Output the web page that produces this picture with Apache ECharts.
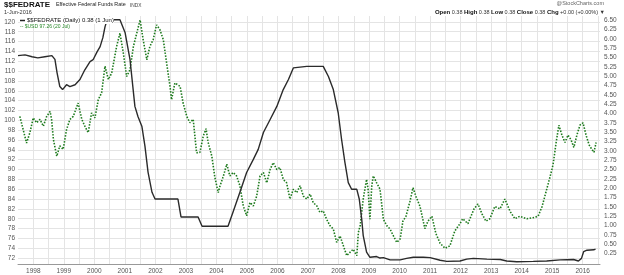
<!DOCTYPE html>
<html><head><meta charset="utf-8">
<script src="https://cdn.jsdelivr.net/npm/echarts@6/dist/echarts.min.js"></script>
<style>html,body{margin:0;padding:0;background:#fff}#c{width:624px;height:275px}</style>
</head><body><div id="c"></div><script>
const yearTicks = [1998,1999,2000,2001,2002,2003,2004,2005,2006,2007,2008,2009,2010,2011,2012,2013,2014,2015,2016];
const gridYears = [1998,1998.5,1999,1999.5,2000,2000.5,2001,2001.5,2002,2002.5,2003,2003.5,2004,2004.5,2005,2005.5,2006,2006.5,2007,2007.5,2008,2008.5,2009,2009.5,2010,2010.5,2011,2011.5,2012,2012.5,2013,2013.5,2014,2014.5,2015,2015.5,2016,2016.5];
const usdTicks = [72,74,76,78,80,82,84,86,88,90,92,94,96,98,100,102,104,106,108,110,112,114,116,118,120];
const rateTicks = [0.25,0.5,0.75,1,1.25,1.5,1.75,2,2.25,2.5,2.75,3,3.25,3.5,3.75,4,4.25,4.5,4.75,5,5.25,5.5,5.75,6,6.25,6.5];

const fedRate = [[1997.50,5.55],[1997.73,5.57],[1997.96,5.52],[1998.15,5.49],[1998.38,5.52],[1998.61,5.55],[1998.71,5.45],[1998.78,5.09],[1998.87,4.72],[1998.96,4.64],[1999.09,4.77],[1999.20,4.72],[1999.37,4.77],[1999.53,4.91],[1999.69,5.17],[1999.86,5.39],[1999.96,5.44],[2000.09,5.65],[2000.19,5.79],[2000.28,6.03],[2000.35,6.32],[2000.42,6.51],[2000.84,6.51],[2001.01,6.16],[2001.17,5.44],[2001.33,4.19],[2001.43,3.92],[2001.56,3.65],[2001.66,3.12],[2001.76,2.43],[2001.89,1.89],[2001.99,1.71],[2002.74,1.71],[2002.84,1.23],[2003.40,1.23],[2003.53,0.98],[2004.38,0.98],[2004.54,1.35],[2004.77,1.89],[2004.99,2.42],[2005.21,2.77],[2005.37,3.04],[2005.54,3.49],[2005.76,3.84],[2005.98,4.19],[2006.19,4.64],[2006.36,4.91],[2006.52,5.22],[2006.96,5.26],[2007.50,5.26],[2007.67,4.99],[2007.83,4.64],[2007.99,4.02],[2008.10,3.31],[2008.21,2.69],[2008.32,2.15],[2008.43,1.97],[2008.60,1.97],[2008.68,1.71],[2008.76,1.17],[2008.81,0.73],[2008.92,0.29],[2009.03,0.15],[2009.25,0.17],[2009.36,0.13],[2009.47,0.14],[2009.69,0.08],[2010.02,0.08],[2010.23,0.12],[2010.45,0.15],[2010.78,0.15],[2011.0,0.14],[2011.33,0.07],[2011.55,0.04],[2011.98,0.05],[2012.20,0.10],[2012.42,0.12],[2012.86,0.10],[2013.30,0.09],[2013.51,0.05],[2013.84,0.03],[2014.38,0.04],[2014.82,0.05],[2015.26,0.08],[2015.70,0.09],[2015.86,0.05],[2015.96,0.12],[2016.03,0.30],[2016.14,0.34],[2016.36,0.35],[2016.42,0.37]];

const usdIndex = [[1997.56,100.8],[1997.67,98.1],[1997.78,95.4],[1997.89,97.5],[1998.00,100.5],[1998.11,99.5],[1998.22,100.2],[1998.33,98.8],[1998.44,100.8],[1998.55,101.8],[1998.60,100.2],[1998.66,96.1],[1998.77,92.7],[1998.87,94.8],[1998.98,94.1],[1999.09,98.1],[1999.20,100.2],[1999.31,100.8],[1999.47,103.5],[1999.59,100.2],[1999.69,98.8],[1999.80,97.5],[1999.91,101.5],[2000.02,100.5],[2000.13,104.2],[2000.24,105.6],[2000.35,111.0],[2000.46,108.3],[2000.57,109.6],[2000.73,115.0],[2000.84,117.7],[2000.95,113.7],[2001.06,108.9],[2001.17,110.3],[2001.28,115.0],[2001.39,117.7],[2001.50,120.4],[2001.60,116.4],[2001.72,112.3],[2001.82,115.0],[2001.93,116.4],[2002.04,119.4],[2002.15,118.4],[2002.26,116.4],[2002.37,111.6],[2002.48,106.9],[2002.53,104.2],[2002.64,107.6],[2002.81,106.9],[2002.91,103.5],[2003.03,100.8],[2003.13,99.5],[2003.24,100.2],[2003.35,93.4],[2003.46,93.5],[2003.57,96.8],[2003.66,98.3],[2003.73,95.5],[2003.85,92.7],[2003.95,88.4],[2004.06,85.3],[2004.12,86.7],[2004.23,88.7],[2004.34,91.1],[2004.44,88.7],[2004.55,89.4],[2004.66,88.7],[2004.77,86.7],[2004.88,82.6],[2004.99,80.6],[2005.10,83.3],[2005.21,82.6],[2005.32,84.6],[2005.43,88.7],[2005.54,89.4],[2005.65,87.3],[2005.76,90.0],[2005.86,91.4],[2005.98,90.0],[2006.08,90.4],[2006.19,88.0],[2006.30,87.3],[2006.41,84.0],[2006.52,86.0],[2006.63,85.3],[2006.74,86.7],[2006.85,84.6],[2006.96,84.0],[2007.07,85.0],[2007.17,83.3],[2007.29,82.6],[2007.39,81.3],[2007.50,81.6],[2007.61,79.9],[2007.72,78.6],[2007.83,77.9],[2007.94,75.2],[2008.05,76.5],[2008.16,74.5],[2008.27,72.5],[2008.38,73.2],[2008.48,73.8],[2008.60,72.5],[2008.65,77.2],[2008.71,78.6],[2008.81,84.0],[2008.92,88.0],[2008.97,86.0],[2009.03,79.9],[2009.09,86.7],[2009.14,88.7],[2009.25,87.3],[2009.36,86.0],[2009.47,79.9],[2009.58,78.6],[2009.69,77.9],[2009.80,76.5],[2009.91,75.2],[2010.02,75.9],[2010.11,79.5],[2010.21,80.5],[2010.34,83.5],[2010.44,86.3],[2010.54,84.5],[2010.67,82.5],[2010.83,78.0],[2010.93,79.5],[2011.06,80.5],[2011.19,77.0],[2011.33,75.0],[2011.49,74.0],[2011.65,74.5],[2011.81,77.5],[2011.98,79.0],[2012.07,80.0],[2012.24,79.0],[2012.44,82.0],[2012.57,83.0],[2012.70,81.0],[2012.83,79.5],[2012.96,80.0],[2013.12,82.5],[2013.29,82.0],[2013.45,84.0],[2013.62,81.5],[2013.78,80.0],[2013.94,80.5],[2014.17,80.0],[2014.37,80.2],[2014.54,80.5],[2014.67,82.5],[2014.80,85.5],[2014.93,88.5],[2015.03,91.0],[2015.13,95.5],[2015.22,99.0],[2015.32,97.0],[2015.42,95.5],[2015.52,97.0],[2015.62,96.0],[2015.71,94.5],[2015.81,97.0],[2015.91,99.0],[2016.01,99.5],[2016.11,97.0],[2016.21,95.0],[2016.31,94.0],[2016.37,93.5],[2016.44,95.5]];

const chart = echarts.init(document.getElementById('c'), null, {renderer:'canvas'});
const lab = {color:'#555', fontSize:6.5, fontFamily:'Liberation Sans'};
chart.setOption({
  animation:false,
  backgroundColor:'#fff',
  grid:{left:18, right:24, top:16, height:249},
  xAxis:{type:'value', min:1997.5, max:2016.567,
    axisLine:{show:true, onZero:false, lineStyle:{color:'#999', width:1}},
    axisTick:{show:false, customValues:gridYears},
    axisLabel:{customValues:yearTicks, formatter:v=>String(Math.round(v)), margin:4, ...lab},
    splitLine:{show:true, lineStyle:{color:'#e4e4e4', width:1}}},
  yAxis:[
    {type:'value', position:'left', min:70.8, max:121.2,
      axisLine:{show:false}, axisTick:{show:false, customValues:usdTicks},
      axisLabel:{customValues:usdTicks, margin:3, ...lab},
      splitLine:{show:true, lineStyle:{color:'#e4e4e4', width:1}}},
    {type:'value', position:'right', min:-0.03, max:6.61,
      axisLine:{show:false}, axisTick:{show:false, customValues:rateTicks},
      axisLabel:{customValues:rateTicks, formatter:v=>v.toFixed(2), margin:4, ...lab},
      splitLine:{show:false}}
  ],
  series:[
    {type:'line', yAxisIndex:1, data:fedRate, showSymbol:false, z:3,
      lineStyle:{color:'#2b2b2b', width:1.4}},
    {type:'line', yAxisIndex:0, data:usdIndex, showSymbol:false, z:2,
      lineStyle:{color:'#1d7a1d', width:1.6, type:[1.5,1.5]}}
  ],
  graphic:[
    {type:'text', left:4, top:1, style:{text:'$$FEDRATE', font:'bold 8px "Liberation Sans"', fill:'#111'}},
    {type:'text', left:56, top:2.5, style:{text:'Effective Federal Funds Rate', font:'5.4px "Liberation Sans"', fill:'#222'}},
    {type:'text', left:130, top:3, style:{text:'INDX', font:'4.8px "Liberation Sans"', fill:'#444'}},
    {type:'text', left:4, top:9, style:{text:'1-Jun-2016', font:'5.5px "Liberation Sans"', fill:'#333'}},
    {type:'text', right:20, top:0, style:{text:'@StockCharts.com', font:'5.5px "Liberation Sans"', fill:'#666'}},
    {type:'text', right:19, top:9, style:{text:'{b|Open} 0.38 {b|High} 0.38 {b|Low} 0.38 {b|Close} 0.38 {b|Chg} +0.00 (+0.00%) ▼', font:'5.5px "Liberation Sans"', fill:'#333', rich:{b:{font:'bold 6px "Liberation Sans"', fill:'#111'}}}},
    {type:'rect', left:20, top:17, shape:{width:94, height:7}, style:{fill:'#fff'}, z:10},
    {type:'line', shape:{x1:20, y1:20.5, x2:25, y2:20.5}, style:{stroke:'#222', lineWidth:1.5}, z:11},
    {type:'text', left:27, top:17, style:{text:'$$FEDRATE (Daily) 0.38 (1 Jun)', font:'6px "Liberation Sans"', fill:'#111'}, z:11},
    {type:'text', left:20, top:24, style:{text:'-- $USD 97.26 (20 Jul)', font:'5px "Liberation Sans"', fill:'#2a8a2a'}, z:11}
  ]
});
</script></body></html>
